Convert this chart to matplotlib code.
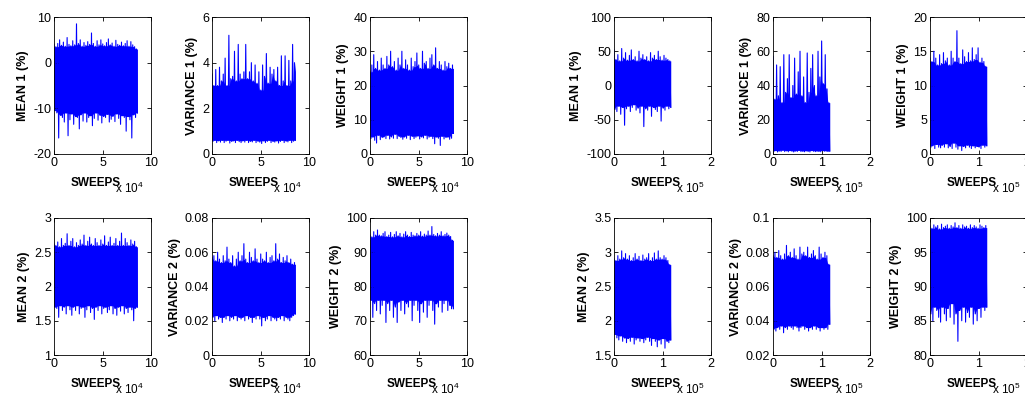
import numpy as np
import matplotlib
matplotlib.use('Agg')
import matplotlib.pyplot as plt
from matplotlib.ticker import FuncFormatter

plt.rcParams['font.family'] = ['Liberation Sans', 'DejaVu Sans']
plt.rcParams['mathtext.fontset'] = 'custom'
plt.rcParams['mathtext.rm'] = 'Liberation Sans'
plt.rcParams['axes.unicode_minus'] = False

# last sweep of each chain (left run: x 10^4, right run: x 10^5)
sweeps_left = 86000
sweeps_right = 117000

# left run, row 1
mean1_l_up = [4, 3.5, 4.2, 5, 3.8, 4.5, 3.6, 5.5, 4, 3.7, 4.8, 3.9, 8.5, 4.2, 5, 3.6, 4.4, 3.8, 4.6, 4, 6.5, 4.2,
              3.6, 4.8, 3.9, 5, 4.1, 3.7, 4.4, 5.2, 3.9, 4.3, 3.6, 4.9, 4, 3.8, 4.5, 3.7, 4.2, 4.8, 3.6, 4.6, 3.9, 3.5, 3]
mean1_l_lo = [-10.5, -11, -16.5, -11.5, -12, -13, -11, -16, -12.5, -11.2, -13.5, -11.8, -12, -14.5, -11.4, -12.8,
              -11, -13, -12, -11.6, -13.8, -12.2, -11, -12.6, -11.5, -13.2, -11.8, -12, -11.3, -13, -12.4, -11.7,
              -12.9, -11.2, -12.2, -13.5, -11.6, -12, -15, -11.8, -12.5, -16.5, -11.4, -12, -11]
var1_l_up = [3.5, 3.0, 3.7, 3.0, 3.8, 3.2, 3.5, 4.2, 3.0, 5.2, 3.3, 3.4, 4.5, 3.2, 4.8, 3.5, 3.3, 3.6, 4.8, 3.3, 3.6,
             4.0, 3.2, 3.9, 3.1, 3.6, 2.8, 3.9, 3.4, 4.4, 3.1, 3.8, 3.5, 3.7, 3.2, 3.8, 3.0, 4.3, 3.2, 4.3, 3.0, 4.1,
             3.2, 4.8, 4.0]
var1_l_lo = [0.55, 0.6, 0.5, 0.58, 0.52, 0.6, 0.5, 0.56, 0.6, 0.48, 0.55, 0.58, 0.5, 0.6, 0.54, 0.5, 0.58, 0.52,
             0.6, 0.5, 0.56, 0.53, 0.6, 0.5, 0.57, 0.52, 0.46, 0.58, 0.5, 0.55, 0.6, 0.5, 0.56, 0.52, 0.58, 0.48,
             0.55, 0.6, 0.5, 0.57, 0.53, 0.6, 0.5, 0.56, 0.6]
w1_l_up = [24, 26, 29, 25, 27, 24.5, 28, 26, 25, 28.5, 26, 30, 25.5, 27, 24.5, 28, 26, 30, 25, 27.5, 26, 24.5, 28,
           25.5, 27, 29.5, 26, 25, 30, 26.5, 27, 25, 28, 29, 26, 31, 25, 27, 26, 24.5, 27, 25.5, 26.5, 25, 26]
w1_l_lo = [4.5, 5, 4, 3.2, 5.5, 4.2, 4.8, 5, 4.5, 5.5, 4.4, 5, 4.6, 5.8, 4.5, 5.2, 4.8, 4.3, 5, 4.6, 5.5, 4.2, 5.2,
           4.5, 4.9, 5.3, 4.4, 5, 4.7, 5.5, 4.4, 4.9, 5.2, 4.5, 3.0, 5, 4.6, 2.5, 5.2, 4.4, 4.8, 5, 4.3, 4.6, 6]

# left run, row 2
mean2_l_up = [2.62, 2.6, 2.65, 2.58, 2.7, 2.6, 2.63, 2.77, 2.6, 2.66, 2.7, 2.58, 2.64, 2.6, 2.68, 2.62, 2.75, 2.6,
              2.66, 2.72, 2.62, 2.6, 2.7, 2.64, 2.6, 2.68, 2.62, 2.74, 2.6, 2.65, 2.72, 2.6, 2.63, 2.7, 2.6, 2.66,
              2.78, 2.6, 2.7, 2.64, 2.6, 2.68, 2.62, 2.66, 2.58]
mean2_l_lo = [1.7, 1.68, 1.55, 1.72, 1.65, 1.7, 1.6, 1.72, 1.66, 1.58, 1.7, 1.65, 1.72, 1.6, 1.68, 1.7, 1.55, 1.66,
              1.72, 1.62, 1.68, 1.52, 1.7, 1.65, 1.72, 1.6, 1.68, 1.7, 1.62, 1.66, 1.72, 1.6, 1.68, 1.58, 1.7, 1.64,
              1.72, 1.6, 1.68, 1.62, 1.7, 1.66, 1.5, 1.68, 1.7]
var2_l_up = [0.057, 0.058, 0.055, 0.06, 0.056, 0.054, 0.058, 0.055, 0.063, 0.056, 0.054, 0.058, 0.052, 0.056, 0.06,
             0.055, 0.058, 0.065, 0.056, 0.054, 0.06, 0.057, 0.055, 0.062, 0.056, 0.054, 0.059, 0.056, 0.055, 0.06,
             0.054, 0.057, 0.058, 0.055, 0.065, 0.056, 0.059, 0.054, 0.057, 0.055, 0.058, 0.054, 0.056, 0.053, 0.054]
var2_l_lo = [0.022, 0.02, 0.023, 0.021, 0.022, 0.019, 0.022, 0.021, 0.023, 0.02, 0.022, 0.021, 0.023, 0.02, 0.022,
             0.021, 0.022, 0.02, 0.023, 0.021, 0.022, 0.019, 0.022, 0.021, 0.023, 0.021, 0.017, 0.022, 0.02, 0.021,
             0.023, 0.02, 0.022, 0.021, 0.02, 0.022, 0.021, 0.023, 0.02, 0.022, 0.021, 0.02, 0.022, 0.023, 0.024]
w2_l_up = [95, 94.5, 96, 95, 96.5, 95, 94.8, 95.5, 96, 94.6, 95, 95.8, 94.5, 95.2, 96, 94.8, 95.5, 94.5, 95.3, 96,
           95, 94.6, 95.8, 95, 94.8, 95.5, 95, 96, 94.7, 95.3, 95, 96.2, 95, 97.5, 95.2, 94.8, 95.5, 95, 96, 94.8,
           95.2, 95.6, 95, 94.6, 93.5]
w2_l_lo = [76, 71, 75, 73, 76, 72, 74.5, 76, 69.5, 75, 73, 76, 71, 74, 69.5, 75.5, 73, 76, 72, 75, 74, 76, 70, 74.5,
           76, 73, 69.5, 75, 72.5, 76, 71, 74.5, 76, 73, 69, 75, 74, 76, 72.5, 75, 76, 73, 74.5, 73.5, 73.5]

# right run, row 1
mean1_r_up = [52, 38, 45, 36, 54, 40, 48, 37, 44, 52, 38, 42, 36, 50, 40, 45, 38, 42, 36, 48, 40, 44, 38, 50, 42,
              37, 44, 40, 38, 36]
mean1_r_lo = [-35, -38, -30, -42, -32, -58, -34, -30, -38, -32, -28, -36, -33, -40, -30, -60, -34, -36, -30, -45,
              -32, -35, -38, -30, -52, -33, -36, -30, -34, -32]
var1_r_up = [57, 32, 52, 34, 51, 30, 58, 36, 44, 58, 33, 40, 56, 35, 48, 60, 34, 45, 30, 59, 36, 50, 58, 40, 34,
             60, 45, 66, 41, 58, 38, 30]
var1_r_lo = [1.5, 2, 1.2, 1.8, 1.5, 2.2, 1.4, 1.9, 1.3, 2, 1.6, 1.2, 1.8, 1.5, 2.1, 1.4, 1.7, 1.3, 1.9, 1.5, 1.2,
             2, 1.6, 1.4, 1.8, 1.5, 1.3, 2, 1.6, 1.8, 1.5, 1.7]
w1_r_up = [14, 13.5, 15, 14, 13, 14.5, 13.2, 14.8, 13.6, 14, 13, 15, 14, 13.5, 18, 14, 13.2, 15.2, 14.2, 13.5, 14.8,
           13.6, 15.5, 13.8, 14.5, 15.5, 13.4, 14, 13.5, 12.8]
w1_r_lo = [1.0, 1.2, 0.8, 1.4, 1.0, 0.9, 1.3, 1.0, 1.5, 0.9, 1.1, 0.8, 1.6, 1.0, 0.7, 1.2, 0.5, 1.1, 0.9, 1.3, 1.0,
           0.8, 1.2, 0.9, 1.1, 1.0, 0.8, 1.3, 1.0, 1.2]

# right run, row 2
mean2_r_up = [2.9, 2.88, 2.95, 2.9, 3.02, 2.92, 2.98, 2.9, 2.95, 2.88, 2.92, 2.98, 2.9, 2.94, 2.88, 2.96, 2.9, 2.92,
              2.98, 2.88, 2.92, 2.99, 2.9, 3.02, 2.92, 2.9, 2.95, 2.92, 2.88, 2.82]
mean2_r_lo = [1.8, 1.75, 1.72, 1.78, 1.7, 1.75, 1.68, 1.74, 1.7, 1.76, 1.66, 1.72, 1.75, 1.7, 1.74, 1.68, 1.72, 1.76,
              1.7, 1.64, 1.74, 1.7, 1.62, 1.72, 1.66, 1.74, 1.6, 1.7, 1.68, 1.72]
var2_r_up = [0.078, 0.08, 0.077, 0.081, 0.078, 0.076, 0.079, 0.084, 0.078, 0.08, 0.077, 0.082, 0.078, 0.076, 0.083,
             0.079, 0.08, 0.078, 0.083, 0.077, 0.079, 0.081, 0.078, 0.076, 0.083, 0.079, 0.077, 0.08, 0.078, 0.073]
var2_r_lo = [0.035, 0.034, 0.036, 0.035, 0.037, 0.033, 0.036, 0.035, 0.037, 0.036, 0.035, 0.037, 0.036, 0.034,
             0.036, 0.037, 0.035, 0.036, 0.034, 0.036, 0.035, 0.037, 0.035, 0.036, 0.034, 0.036, 0.035, 0.036,
             0.035, 0.038]
w2_r_up = [98.8, 98.5, 99, 98.7, 98.9, 98.4, 99.1, 98.6, 98.8, 99, 98.5, 98.9, 98.7, 99.3, 98.6, 98.9, 98.5, 99,
           98.7, 98.8, 98.5, 99, 98.6, 98.9, 98.7, 98.5, 99, 98.8, 98.6, 98.9]
w2_r_lo = [86, 85, 87, 86.5, 85.5, 84.8, 87, 86, 85, 86.8, 85.5, 87.5, 84.5, 86, 82, 86.5, 85, 87, 84.8, 86.2, 85.5,
           87, 84.5, 86, 85, 86.8, 85.5, 87, 86.5, 87]

ylabels = ['MEAN 1 (%)', 'VARIANCE 1 (%)', 'WEIGHT 1 (%)', 'MEAN 2 (%)', 'VARIANCE 2 (%)', 'WEIGHT 2 (%)']

left_panels = [
    (mean1_l_up, mean1_l_lo, (-20, 10), 10),
    (var1_l_up, var1_l_lo, (0, 6), 2),
    (w1_l_up, w1_l_lo, (0, 40), 10),
    (mean2_l_up, mean2_l_lo, (1, 3), 0.5),
    (var2_l_up, var2_l_lo, (0, 0.08), 0.02),
    (w2_l_up, w2_l_lo, (60, 100), 10),
]
right_panels = [
    (mean1_r_up, mean1_r_lo, (-100, 100), 50),
    (var1_r_up, var1_r_lo, (0, 80), 20),
    (w1_r_up, w1_r_lo, (0, 20), 5),
    (mean2_r_up, mean2_r_lo, (1.5, 3.5), 0.5),
    (var2_r_up, var2_r_lo, (0.02, 0.1), 0.02),
    (w2_r_up, w2_r_lo, (80, 100), 5),
]

W, H = 1025, 395
fig = plt.figure(figsize=(W / 100, H / 100), dpi=100)

col_left = [54, 212, 370]
col_right = [614, 773, 930]
row_bottom = [241, 40]
aw, ah = 97, 137

fmt = FuncFormatter(lambda v, _: f'{v:g}')


def draw_panel(left, bottom, up, lo, ylim, ystep, ylabel, last, xmax, exp):
    ax = fig.add_axes([left / W, bottom / H, aw / W, ah / H])
    n = min(len(up), len(lo))
    up = np.asarray(up[:n], float)
    lo = np.asarray(lo[:n], float)
    y = np.empty(2 * n)
    y[0::2] = up
    y[1::2] = lo
    x = np.linspace(0, last, 2 * n)
    # dense core of the chain: where neighbouring samples overlap
    pad_up = np.concatenate([[up[0]], up, [up[-1]]])
    pad_lo = np.concatenate([[lo[0]], lo, [lo[-1]]])
    core_up = np.minimum(np.minimum(pad_up[:-2], pad_up[1:-1]), pad_up[2:])
    core_lo = np.maximum(np.maximum(pad_lo[:-2], pad_lo[1:-1]), pad_lo[2:])
    xc = np.linspace(0, last, n)
    ax.fill_between(xc, core_lo, core_up, color='blue', lw=0)
    ax.plot(x, y, color='blue', lw=0.8)
    ax.set_xlim(0, xmax)
    ax.set_ylim(*ylim)
    ax.set_xticks(np.linspace(0, xmax, 3))
    ax.set_xticklabels(['0', f'{xmax / 2 / 10**exp:g}', f'{xmax / 10**exp:g}'])
    ax.set_yticks(np.arange(ylim[0], ylim[1] + ystep / 2, ystep))
    ax.yaxis.set_major_formatter(fmt)
    ax.tick_params(direction='in', length=3, width=0.6, top=True, right=True, labelsize=9, pad=2)
    for s in ax.spines.values():
        s.set_linewidth(0.6)
    ax.set_ylabel(ylabel, fontsize=9, fontweight='bold', labelpad=3)
    ax.set_xlabel('SWEEPS', fontsize=8.5, fontweight='bold')
    ax.xaxis.set_label_coords(0.43, -0.17)
    ax.text(0.93, -0.285, 'x 10$^{%d}$' % exp, transform=ax.transAxes, ha='right', va='baseline', fontsize=8.5)
    return ax


for i, (up, lo, ylim, ystep) in enumerate(left_panels):
    draw_panel(col_left[i % 3], row_bottom[i // 3], up, lo, ylim, ystep, ylabels[i], sweeps_left, 100000, 4)

for i, (up, lo, ylim, ystep) in enumerate(right_panels):
    draw_panel(col_right[i % 3], row_bottom[i // 3], up, lo, ylim, ystep, ylabels[i], sweeps_right, 200000, 5)

plt.savefig('out.png', dpi=100)
plt.close()
